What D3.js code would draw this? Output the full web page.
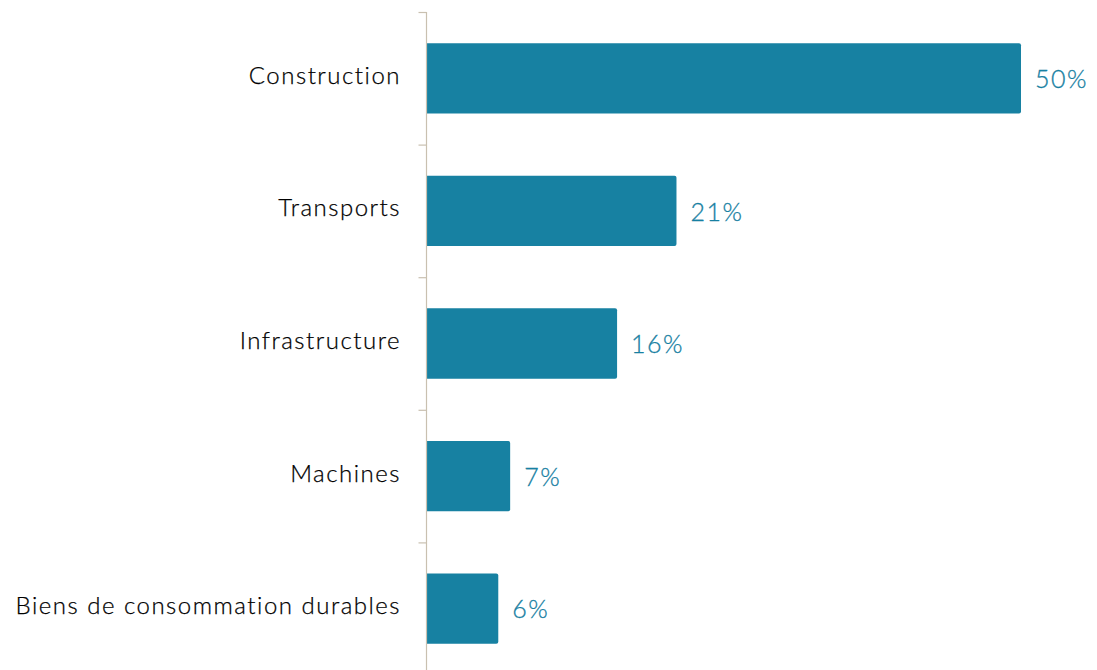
<!DOCTYPE html>
<html>
<head>
<meta charset="utf-8">
<script src="https://cdn.jsdelivr.net/npm/d3@7"></script>
<style>
  html, body { margin: 0; padding: 0; background: #ffffff; }
  svg { display: block; }
</style>
</head>
<body>
<script>
// Share of use by sector (%)
const categories = ["Construction", "Transports", "Infrastructure", "Machines", "Biens de consommation durables"];
const values = [50, 21, 16, 7, 6];
const valueLabels = ["50%", "21%", "16%", "7%", "6%"];

const width = 1097, height = 670;
const margin = { top: 12, right: 76, bottom: -5, left: 427 };

const svg = d3.select("body").append("svg")
  .attr("width", width)
  .attr("height", height);

const y = d3.scaleBand()
  .domain(categories)
  .range([margin.top, height - margin.bottom])
  .paddingInner(0.47)
  .paddingOuter(0.235);

const x = d3.scaleLinear()
  .domain([0, 50])
  .range([margin.left, width - margin.right]);

const fontFamily = "Lato, 'Noto Sans', sans-serif";

// Bars with slightly rounded right ends
const bars = svg.append("g");
categories.forEach((c, i) => {
  const x0 = x(0), x1 = x(values[i]);
  const y0 = y(c), h = y.bandwidth(), r = 2;
  bars.append("path")
    .attr("d", `M${x0},${y0} H${x1 - r} Q${x1},${y0} ${x1},${y0 + r} V${y0 + h - r} Q${x1},${y0 + h} ${x1 - r},${y0 + h} H${x0} Z`)
    .attr("fill", "#1781a2");
});

// Category axis: line with ticks on band boundaries
const axisColor = "#c9c0b0";
const step = y.step();
const axisG = svg.append("g");
const ax = x(0) - 0.5;
axisG.append("line")
  .attr("x1", ax).attr("x2", ax)
  .attr("y1", margin.top).attr("y2", height + 5)
  .attr("stroke", axisColor).attr("stroke-width", 1.2);
const tickYs = d3.range(categories.length + 1).map(i => margin.top + i * step);
axisG.selectAll("line.tick").data(tickYs).join("line")
  .attr("class", "tick")
  .attr("x1", ax - 8).attr("x2", ax)
  .attr("y1", d => d + 0.5).attr("y2", d => d + 0.5)
  .attr("stroke", axisColor).attr("stroke-width", 1.2);

// Category labels
svg.append("g").selectAll("text").data(categories).join("text")
  .attr("x", 401)
  .attr("y", d => y(d) + y.bandwidth() / 2 - 3)
  .attr("dy", "0.35em")
  .attr("text-anchor", "end")
  .attr("font-family", fontFamily)
  .attr("font-weight", 300)
  .attr("font-size", 24)
  .attr("letter-spacing", "1.5px")
  .attr("fill", "#000000")
  .attr("stroke", "#000000")
  .attr("stroke-width", 0.25)
  .text(d => d);

// Value labels
svg.append("g").selectAll("text").data(categories).join("text")
  .attr("x", (d, i) => x(values[i]) + 14)
  .attr("y", d => y(d) + y.bandwidth() / 2 + 1)
  .attr("dy", "0.35em")
  .attr("font-family", fontFamily)
  .attr("font-weight", 300)
  .attr("font-size", 25)
  .attr("letter-spacing", "1.5px")
  .attr("fill", "#1780a2")
  .attr("stroke", "#1780a2")
  .attr("stroke-width", 0.3)
  .text((d, i) => valueLabels[i]);
</script>
</body>
</html>
